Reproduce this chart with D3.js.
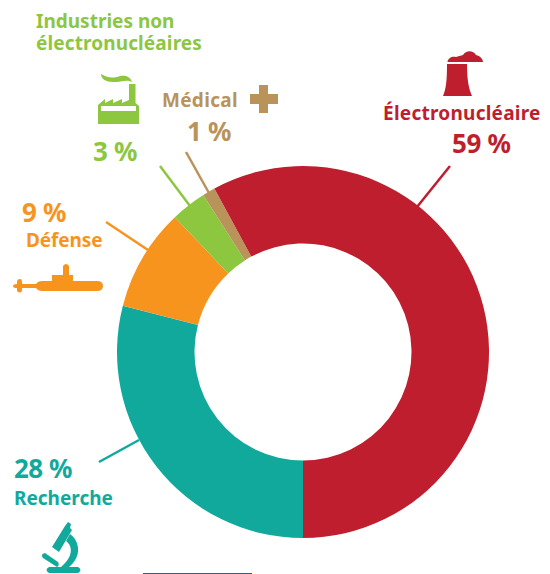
<!DOCTYPE html>
<html>
<head>
<meta charset="utf-8">
<script src="https://cdn.jsdelivr.net/npm/d3@7"></script>
<style>
html, body { margin: 0; padding: 0; background: #fff; }
svg { display: block; }
text { font-family: "Noto Sans", sans-serif; font-weight: 700; }
</style>
</head>
<body>
<svg id="chart" width="550" height="574"></svg>
<script>
// Slices as measured on the ring, clockwise from the bottom
const categories = ["Recherche", "Défense", "Industries non électronucléaires", "Médical", "Électronucléaire"];
const shares = [29, 8.9, 3.1, 1.1, 57.9];
const printedShares = ["28 %", "9 %", "3 %", "1 %", "59 %"];
const colors = ["#12a99d", "#f7941e", "#8dc63f", "#b9935a", "#be1e2d"];

const svg = d3.select("#chart");
const cx = 303, cy = 352, outerR = 186, innerR = 108.5;

const pie = d3.pie().sort(null).value(d => d)
    .startAngle(Math.PI).endAngle(3 * Math.PI);
const arc = d3.arc().innerRadius(innerR).outerRadius(outerR);

svg.append("g").attr("transform", `translate(${cx},${cy})`)
    .selectAll("path")
    .data(pie(shares))
    .join("path")
    .attr("d", arc)
    .attr("fill", (d, i) => colors[i]);

// Leader lines from the label to the ring
const leaders = [
    { i: 0, x1: 99, y1: 462, x2: 139, y2: 440 },
    { i: 1, x1: 106, y1: 222, x2: 148, y2: 250 },
    { i: 2, x1: 160, y1: 166, x2: 190, y2: 206 },
    { i: 3, x1: 186, y1: 152, x2: 209, y2: 193 },
    { i: 4, x1: 450, y1: 166, x2: 417, y2: 207 }
];
leaders.forEach(l => {
    svg.append("line")
        .attr("x1", l.x1).attr("y1", l.y1)
        .attr("x2", l.x2).attr("y2", l.y2)
        .attr("stroke", colors[l.i]).attr("stroke-width", 2.5);
});

// Text labels
function label(str, x, y, size, color) {
    return svg.append("text").attr("x", x).attr("y", y)
        .attr("font-size", size).attr("fill", color).text(str);
}
const title = svg.append("text").attr("font-size", 19).attr("fill", colors[2]);
title.append("tspan").attr("x", 36).attr("y", 28).text("Industries non");
title.append("tspan").attr("x", 36).attr("y", 50).attr("letter-spacing", 0.12).text("électronucléaires");
label(printedShares[2], 93, 161, 26, colors[2]).attr("letter-spacing", -0.3);
label(categories[3], 162, 107, 19, colors[3]).attr("letter-spacing", 0.3);
label(printedShares[3], 187, 141, 26, colors[3]).attr("letter-spacing", -0.3);
label(categories[4], 383, 120, 19, colors[4]).attr("letter-spacing", 0.25);
label(printedShares[4], 452, 153, 26, colors[4]).attr("letter-spacing", -0.3);
label(printedShares[1], 22, 222, 26, colors[1]).attr("letter-spacing", -0.3);
label(categories[1], 26, 247, 19, colors[1]).attr("letter-spacing", -0.1);
label(printedShares[0], 14, 478, 26, colors[0]).attr("letter-spacing", -0.5);
label(categories[0], 14, 505, 19, colors[0]);

// Icons
function icon(x, y, color, paths) {
    const g = svg.append("g").attr("transform", `translate(${x},${y})`)
        .attr("fill", color).attr("fill-rule", "evenodd");
    paths.forEach(d => g.append("path").attr("d", d));
}
// factory
icon(98, 74, colors[2], [
    "M3 0 C8 3 14 5 22 2 C27 1 32 2 34 8 C29 5 23 8 15 8 C8 8 3 5 3 0Z",
    "M0 50 V31 L7 25 V29 L15 25 V29 L24 25 V29 L31 26 V10 H37.5 V29 L41 32 V50 Z M3 32 V37 H38 V32 Z"
]);
// cross
icon(250, 85, colors[3], ["M9 0 H18 V9 H28 V19 H18 V28 H9 V19 H0 V9 H9 Z"]);
// cooling tower
icon(443, 51, colors[4], [
    "M4.5 11 C5 7 9 5 13 6 C15 5 18 5 20 4 C23 -1 30 -1 33 4 C37 5 40 8 40 11 Z",
    "M4 13 H24 C24 30 26 38 29 45 H0 C3 38 4 30 4 13 Z"
]);
// submarine
icon(13, 263, colors[1], [
    "M0 23 Q0 21 4 21 V19 Q4 16 7 16 Q9 16 9 19 V21 H23 Q25 18 29 18 H39 V12 H50 V3 Q53 -1 56 3 V12 H60 V18 H84 Q90 18 90 23 Q90 28 84 28 H29 Q25 28 23 25 H9 V28 Q7 31 4 28 V25 Q0 25 0 23 Z"
]);
// microscope
icon(41, 521, colors[0], [
    "M27 1 L30 3 L29 7 L31 9 L18 31 L11 26 L24 5 Z",
    "M4 32 L17 41 Q19 44 16 46 L2 37 Q-1 33 4 32 Z",
    "M29 13 C39 20 41 36 28 46 H20 C31 37 33 26 25 20 Z",
    "M8 46 H37 Q42 49 37 52 H8 Q3 49 8 46 Z"
]);

// Cut-off rule at the bottom edge
svg.append("rect").attr("x", 143).attr("y", 573).attr("width", 109).attr("height", 1).attr("fill", "#2b5f8f");
</script>
</body>
</html>
